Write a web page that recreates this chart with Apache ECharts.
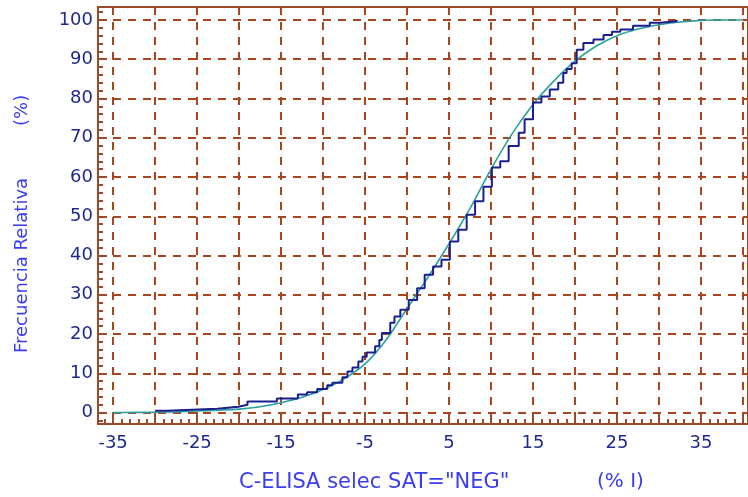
<!DOCTYPE html>
<html>
<head>
<meta charset="utf-8">
<script src="https://cdn.jsdelivr.net/npm/echarts@6/dist/echarts.min.js"></script>
<style>
  html, body { margin: 0; padding: 0; background: #ffffff; }
  #chart { width: 748px; height: 497px; }
</style>
</head>
<body>
<div id="chart"></div>
<script>
// Empirical cumulative frequency (step curve): jump position and level after the jump (%)
const stepX = [-30, -28.6, -22.6, -20.1, -19.0, -15.5, -13.0, -11.9, -10.7, -9.5, -8.9, -7.7, -7.1,
  -6.5, -5.8, -5.3, -4.8, -3.8, -3.3, -3.0, -2.0, -1.5, -0.8, 0.2, 1.2, 2.1, 3.1, 4.1, 5.1,
  6.1, 7.1, 8.1, 9.1, 10.1, 11.1, 12.1, 13.3, 14.0, 15.0, 16.0, 17.0, 18.0, 18.6, 19.0, 19.6,
  20.2, 21.0, 22.2, 23.4, 24.4, 25.4, 26.9, 28.9, 30.1, 32.1];
const stepY = [0.5, 1.0, 1.5, 2.0, 2.8, 3.6, 4.6, 5.2, 6.0, 7.0, 7.6, 9.0, 10.5,
  11.5, 13.0, 14.2, 15.3, 16.9, 18.5, 20.3, 22.9, 24.5, 26.2, 28.7, 31.7, 35.1, 37.2, 38.9, 43.6,
  46.6, 50.4, 53.8, 57.5, 62.4, 64.0, 67.9, 71.3, 74.7, 79.0, 80.5, 82.3, 84.0, 86.5, 87.5, 89.0,
  92.4, 94.1, 95.0, 96.2, 97.0, 97.6, 98.5, 99.3, 99.7, 100];

// Fitted cumulative curve (%)
const fitX = [-35, -32.5, -30, -27.5, -25, -22.5, -20, -17.5, -15, -12.5, -10, -7.5, -5, -2.5, 0,
  2.5, 5, 7.5, 10, 12.5, 15, 17.5, 20, 22.5, 25, 27.5, 30, 32.5, 35, 37.5, 40];
const fitY = [0, 0.05, 0.1, 0.2, 0.4, 0.6, 0.9, 1.5, 2.5, 3.9, 5.9, 8.6, 12.4, 18.5, 26.5,
  34.5, 43, 52, 62, 71, 78.5, 84.5, 89.5, 93.3, 96, 97.7, 98.8, 99.5, 99.9, 100, 100];

// Axis ticks and labels
const xGridTicks = [-35, -30, -25, -20, -15, -10, -5, 0, 5, 10, 15, 20, 25, 30, 35, 40];
const xTickLabels = [-35, -25, -15, -5, 5, 15, 25, 35];
const xMinorTicks = [];
for (let v = -36; v <= 40; v++) xMinorTicks.push(v);
const yGridTicks = [0, 10, 20, 30, 40, 50, 60, 70, 80, 90, 100];
const yMinorTicks = [];
for (let v = -2; v <= 102; v += 2) yMinorTicks.push(v);

const xRange = [-36.8, 40.6];
const yRange = [-2.9, 103.3];

const BROWN = '#a8451c';
const AXIS_BROWN = '#9c4a2c';
const LABEL_NAVY = '#1f2a8c';
const TITLE_BLUE = '#3a3cf0';
const FONT = 'DejaVu Sans';

const chart = echarts.init(document.getElementById('chart'), null, { renderer: 'canvas' });

const gridDash = { color: BROWN, width: 2, type: [8, 7] };

chart.setOption({
  animation: false,
  backgroundColor: '#ffffff',
  grid: {
    left: 98, top: 7, right: -2, bottom: 73,
    show: true, borderColor: AXIS_BROWN, borderWidth: 2, backgroundColor: 'transparent'
  },
  xAxis: [
    {
      type: 'value', min: xRange[0], max: xRange[1], position: 'bottom',
      axisLine: { show: true, onZero: false, lineStyle: { color: AXIS_BROWN, width: 2 } },
      axisTick: { show: true, inside: true, length: 9, customValues: xGridTicks, lineStyle: { color: AXIS_BROWN, width: 2 } },
      axisLabel: { show: true, customValues: xTickLabels, color: LABEL_NAVY, fontFamily: FONT, fontSize: 18, margin: 10 },
      splitLine: { show: true, lineStyle: gridDash }
    },
    {
      type: 'value', min: xRange[0], max: xRange[1], position: 'bottom',
      axisLine: { show: false, onZero: false },
      axisTick: { show: true, inside: true, length: 5, customValues: xMinorTicks, lineStyle: { color: AXIS_BROWN, width: 2 } },
      axisLabel: { show: false },
      splitLine: { show: false }
    }
  ],
  yAxis: [
    {
      type: 'value', min: yRange[0], max: yRange[1], position: 'left',
      axisLine: { show: true, onZero: false, lineStyle: { color: AXIS_BROWN, width: 2 } },
      axisTick: { show: true, inside: true, length: 9, customValues: yGridTicks, lineStyle: { color: AXIS_BROWN, width: 2 } },
      axisLabel: { show: true, customValues: yGridTicks, color: LABEL_NAVY, fontFamily: FONT, fontSize: 18, margin: 5 },
      splitLine: { show: true, lineStyle: gridDash }
    },
    {
      type: 'value', min: yRange[0], max: yRange[1], position: 'left',
      axisLine: { show: false, onZero: false },
      axisTick: { show: true, inside: true, length: 5, customValues: yMinorTicks, lineStyle: { color: AXIS_BROWN, width: 2 } },
      axisLabel: { show: false },
      splitLine: { show: false }
    }
  ],
  series: [
    {
      name: 'Ajuste',
      type: 'line',
      xAxisIndex: 0, yAxisIndex: 0,
      data: fitX.map((x, i) => [x, fitY[i]]),
      smooth: 0.25,
      showSymbol: false,
      lineStyle: { color: '#2aa0a0', width: 1.6 },
      z: 3
    },
    {
      name: 'Frecuencia',
      type: 'line',
      xAxisIndex: 0, yAxisIndex: 0,
      data: stepX.map((x, i) => [x, stepY[i]]),
      step: 'end',
      showSymbol: false,
      lineStyle: { color: '#1b1f8e', width: 2 },
      z: 4
    }
  ],
  graphic: [
    {
      type: 'text', left: 239, top: 472,
      style: { text: 'C-ELISA selec SAT="NEG"', fill: TITLE_BLUE, font: '21px "' + FONT + '"' }
    },
    {
      type: 'text', left: 597, top: 472,
      style: { text: '(% I)', fill: TITLE_BLUE, font: '20px "' + FONT + '"' }
    },
    {
      type: 'text', x: 13, y: 353, rotation: Math.PI / 2,
      style: { text: 'Frecuencia Relativa', fill: TITLE_BLUE, font: '18px "' + FONT + '"', align: 'left', verticalAlign: 'top' }
    },
    {
      type: 'text', x: 13, y: 126, rotation: Math.PI / 2,
      style: { text: '(%)', fill: TITLE_BLUE, font: '18px "' + FONT + '"', align: 'left', verticalAlign: 'top' }
    }
  ]
});
</script>
</body>
</html>
